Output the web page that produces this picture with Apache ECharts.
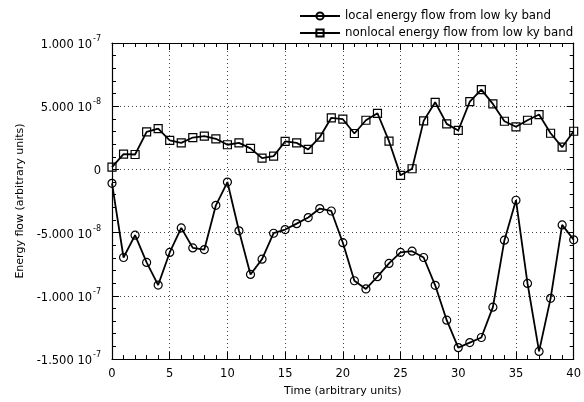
<!DOCTYPE html>
<html><head><meta charset="utf-8">
<script src="https://cdn.jsdelivr.net/npm/echarts@6/dist/echarts.min.js"></script>
<style>html,body{margin:0;padding:0;background:#fff}#c{width:584px;height:402px}</style>
</head><body><div id="c"></div>
<script>
const times = [0,1,2,3,4,5,6,7,8,9,10,11,12,13,14,15,16,17,18,19,20,21,22,23,24,25,26,27,28,29,30,31,32,33,34,35,36,37,38,39,40];
const localFlow = [-1.10e-8,-6.97e-8,-5.20e-8,-7.36e-8,-9.15e-8,-6.57e-8,-4.63e-8,-6.21e-8,-6.34e-8,-2.84e-8,
  -1.00e-8,-4.86e-8,-8.31e-8,-7.10e-8,-5.05e-8,-4.76e-8,-4.29e-8,-3.81e-8,-3.10e-8,-3.29e-8,
  -5.80e-8,-8.81e-8,-9.46e-8,-8.49e-8,-7.44e-8,-6.57e-8,-6.47e-8,-6.97e-8,-9.17e-8,-11.93e-8,
  -14.10e-8,-13.70e-8,-13.30e-8,-10.90e-8,-5.60e-8,-2.44e-8,-9.02e-8,-14.40e-8,-10.20e-8,-4.39e-8,-5.57e-8];
const nonlocalFlow = [0.18e-8,1.21e-8,1.18e-8,2.97e-8,3.23e-8,2.29e-8,2.10e-8,2.52e-8,2.63e-8,2.42e-8,
  1.95e-8,2.10e-8,1.66e-8,0.89e-8,1.05e-8,2.21e-8,2.10e-8,1.58e-8,2.55e-8,4.08e-8,
  3.97e-8,2.84e-8,3.89e-8,4.44e-8,2.23e-8,-0.47e-8,0.05e-8,3.84e-8,5.31e-8,3.60e-8,
  3.08e-8,5.36e-8,6.31e-8,5.18e-8,3.81e-8,3.37e-8,3.89e-8,4.34e-8,2.86e-8,1.76e-8,3.02e-8];
const seriesNames = ['local energy flow from low ky band','nonlocal energy flow from low ky band'];
const xTicks = [0,5,10,15,20,25,30,35,40];
const yTickValues = [-1.5e-7,-1.0e-7,-5.0e-8,0,5.0e-8,1.0e-7];
const yTickMantissa = ['-1.500 10','-1.000 10','-5.000 10','0','5.000 10','1.000 10'];
const yTickExponent = ['-7','-7','-8','','-8','-7'];
const xTitle = 'Time (arbitrary units)';
const yTitle = 'Energy flow (arbitrary units)';

const FONT = 'DejaVu Sans';
const chart = echarts.init(document.getElementById('c'));
function yFmt(v){
  let best = 0, bd = Infinity;
  yTickValues.forEach((t,i)=>{const d=Math.abs(t-v); if(d<bd){bd=d;best=i;}});
  if (yTickExponent[best]==='') return '{m|'+yTickMantissa[best]+'}';
  return '{m|'+yTickMantissa[best]+'}{e|'+yTickExponent[best]+'}';
}
const gridStyle = {show:true, lineStyle:{color:'#444', type:[1,3], width:1}};
const common = {
  axisLine:{show:true, onZero:false, lineStyle:{color:'#000', width:1.2}},
  axisTick:{show:true, inside:true, length:7, lineStyle:{color:'#000'}},
  minorTick:{show:true, splitNumber:5, length:4, lineStyle:{color:'#000'}},
};
chart.setOption({
  animation:false,
  backgroundColor:'#fff',
  textStyle:{fontFamily:FONT},
  grid:{left:112, right:9, top:43, bottom:42},
  legend:{
    orient:'vertical', left:294, top:5, itemGap:5, itemWidth:40, itemHeight:9,
    textStyle:{fontFamily:FONT, fontSize:11.8, color:'#000'},
    data:seriesNames
  },
  xAxis:[
    Object.assign({type:'value', min:0, max:40, interval:5, position:'bottom',
      name:xTitle, nameLocation:'middle', nameGap:27,
      nameTextStyle:{fontFamily:FONT, fontSize:11, color:'#000'},
      axisLabel:{fontFamily:FONT, fontSize:11.5, color:'#000', margin:9,
        formatter:v=>xTicks.includes(v)?String(v):''},
      splitLine:gridStyle}, common),
    Object.assign({type:'value', min:0, max:40, interval:5, position:'top',
      axisLabel:{show:false}, splitLine:{show:false}}, common)
  ],
  yAxis:[
    Object.assign({type:'value', min:-1.5e-7, max:1e-7, interval:5e-8, position:'left',
      name:yTitle, nameLocation:'middle', nameGap:86,
      nameTextStyle:{fontFamily:FONT, fontSize:11, color:'#000'},
      axisLabel:{fontFamily:FONT, fontSize:11, color:'#000', margin:11, formatter:yFmt,
        rich:{m:{fontFamily:FONT, fontSize:11.5, color:'#000', verticalAlign:'bottom', lineHeight:16},
              e:{fontFamily:FONT, fontSize:8, color:'#000', verticalAlign:'top', lineHeight:16, padding:[0,0,0,1]}}},
      splitLine:gridStyle}, common),
    Object.assign({type:'value', min:-1.5e-7, max:1e-7, interval:5e-8, position:'right',
      axisLabel:{show:false}, splitLine:{show:false}}, common)
  ],
  series:[
    {name:seriesNames[0], type:'line', data:times.map((t,i)=>[t,localFlow[i]]),
     symbol:'circle', symbolSize:8, showAllSymbol:true,
     lineStyle:{color:'#000', width:1.8},
     itemStyle:{color:'rgba(255,255,255,0)', borderColor:'#000', borderWidth:1.2}},
    {name:seriesNames[1], type:'line', data:times.map((t,i)=>[t,nonlocalFlow[i]]),
     symbol:'rect', symbolSize:8, showAllSymbol:true,
     lineStyle:{color:'#000', width:1.8},
     itemStyle:{color:'rgba(255,255,255,0)', borderColor:'#000', borderWidth:1.2}}
  ]
});
</script></body></html>
